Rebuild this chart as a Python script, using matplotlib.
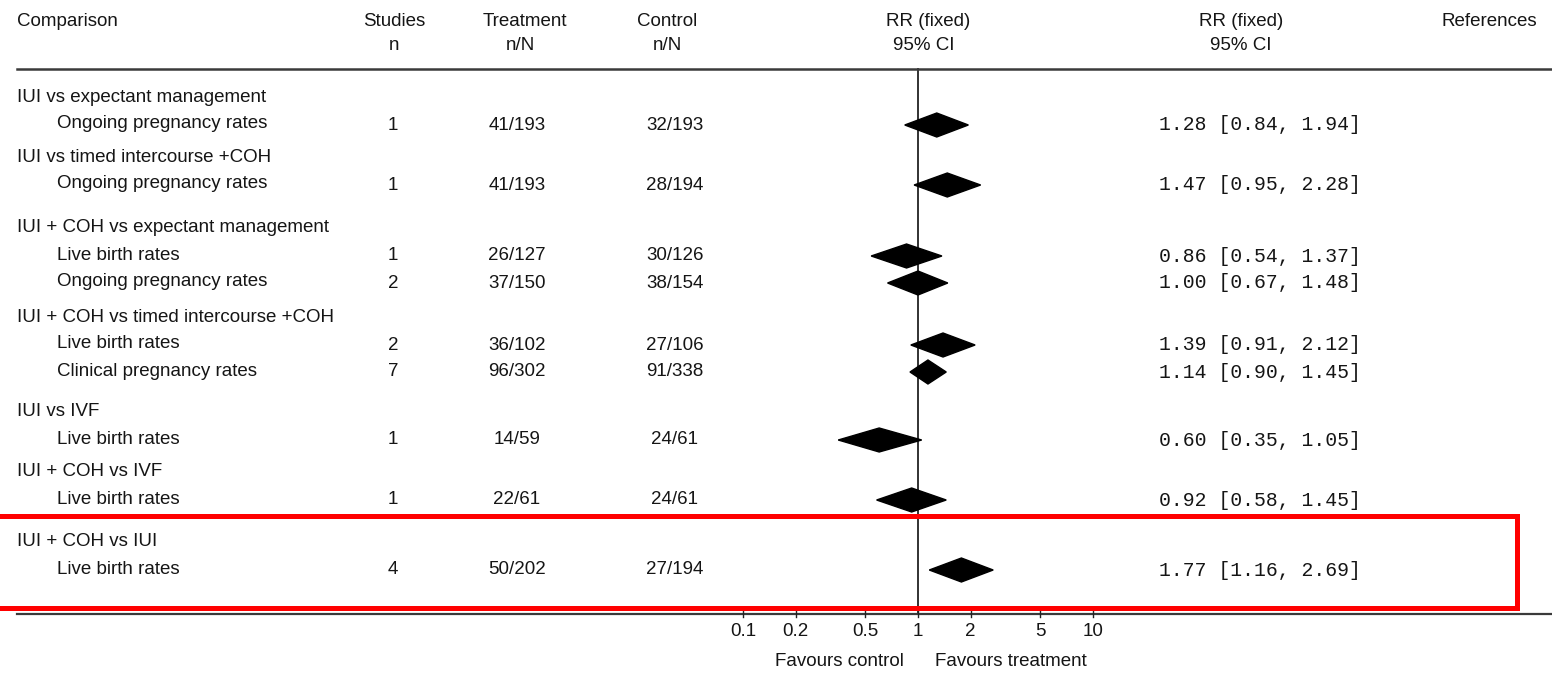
import numpy as np
import matplotlib
matplotlib.use("Agg")
from matplotlib import pyplot as plt
from matplotlib.transforms import blended_transform_factory
from matplotlib.patches import Rectangle

# ---- data ----
groups = [
    "IUI vs expectant management",
    "IUI vs timed intercourse +COH",
    "IUI + COH vs expectant management",
    "IUI + COH vs timed intercourse +COH",
    "IUI vs IVF",
    "IUI + COH vs IVF",
    "IUI + COH vs IUI",
]
outcomes = [
    ["Ongoing pregnancy rates"],
    ["Ongoing pregnancy rates"],
    ["Live birth rates", "Ongoing pregnancy rates"],
    ["Live birth rates", "Clinical pregnancy rates"],
    ["Live birth rates"],
    ["Live birth rates"],
    ["Live birth rates"],
]
studies = [1, 1, 1, 2, 2, 7, 1, 1, 4]
treatment = ["41/193", "41/193", "26/127", "37/150", "36/102", "96/302", "14/59", "22/61", "50/202"]
control = ["32/193", "28/194", "30/126", "38/154", "27/106", "91/338", "24/61", "24/61", "27/194"]
rr = [1.28, 1.47, 0.86, 1.00, 1.39, 1.14, 0.60, 0.92, 1.77]
ci_lo = [0.84, 0.95, 0.54, 0.67, 0.91, 0.90, 0.35, 0.58, 1.16]
ci_hi = [1.94, 2.28, 1.37, 1.48, 2.12, 1.45, 1.05, 1.45, 2.69]

ticks = [0.1, 0.2, 0.5, 1, 2, 5, 10]
tick_labels = ["0.1", "0.2", "0.5", "1", "2", "5", "10"]

# ---- layout (pixels) ----
W, H = 1552, 674
group_top = [97, 157, 228, 317, 412, 472, 542]
row_step = 27
decade = 175.0   # px per decade on the log axis
x_one = 918.0    # px where RR = 1

SANS = "Liberation Sans"
MONO = "Liberation Mono"
fs = 13.5

fig = plt.figure(figsize=(W / 100, H / 100), dpi=100)
fig.patch.set_facecolor("white")
ax = fig.add_axes([0, 0, 1, 1])
ax.set_xscale("log")
lo_dec = -x_one / decade
ax.set_xlim(10 ** lo_dec, 10 ** (lo_dec + W / decade))
ax.set_ylim(H, 0)
ax.axis("off")

tr = blended_transform_factory(ax.transAxes, ax.transData)


def put(xpx, y, s, ha="left", family=SANS, size=fs):
    ax.text(xpx / W, y, s, transform=tr, ha=ha, va="center",
            family=family, fontsize=size, color="#151515")


# header
put(17, 22, "Comparison")
put(394, 22, "Studies", ha="center")
put(394, 45, "n", ha="center")
put(525, 22, "Treatment", ha="center")
put(520, 45, "n/N", ha="center")
put(667, 22, "Control", ha="center")
put(667, 45, "n/N", ha="center")
put(928, 22, "RR (fixed)", ha="center")
put(924, 45, "95% CI", ha="center")
put(1241, 22, "RR (fixed)", ha="center")
put(1241, 45, "95% CI", ha="center")
put(1537, 22, "References", ha="right")

ax.plot([17 / W, 1], [69, 69], transform=tr, color="#3a3a3a", lw=1.8)
ax.plot([17 / W, 1], [614, 614], transform=tr, color="#3a3a3a", lw=1.6)

# reference line at RR = 1
ax.plot([1, 1], [69, 614], color="#222222", lw=1.3, zorder=1)

# rows
i = 0
for g, name in enumerate(groups):
    put(17, group_top[g], name)
    for k, oc in enumerate(outcomes[g]):
        y = group_top[g] + row_step * (k + 1)
        put(57, y, oc)
        put(393, y + 1, str(studies[i]), ha="center")
        put(517, y + 1, treatment[i], ha="center")
        put(675, y + 1, control[i], ha="center")
        ax.fill([ci_lo[i], rr[i], ci_hi[i], rr[i]], [y + 1, y - 11, y + 1, y + 13],
                color="black", zorder=3)
        put(1159, y + 1, "%.2f [%.2f, %.2f]" % (rr[i], ci_lo[i], ci_hi[i]),
            family=MONO, size=14.2)
        i += 1

# axis ticks and labels
for t, lab in zip(ticks, tick_labels):
    ax.plot([t, t], [610, 617], color="#222222", lw=1.0)
    ax.text(t, 631, lab, ha="center", va="center", family=SANS, fontsize=fs, color="#151515")

ax.text(904 / W, 662, "Favours control", transform=tr, ha="right", va="center",
        family=SANS, fontsize=fs, color="#151515")
ax.text(935 / W, 662, "Favours treatment", transform=tr, ha="left", va="center",
        family=SANS, fontsize=fs, color="#151515")

# highlight box around the last comparison
ax.add_patch(Rectangle((-10 / W, 515.5), (1516.5 + 10) / W, 92, transform=tr,
                       fill=False, edgecolor="#ff0000", lw=3.6, zorder=5))

fig.savefig("out.png", dpi=100, facecolor="white")
